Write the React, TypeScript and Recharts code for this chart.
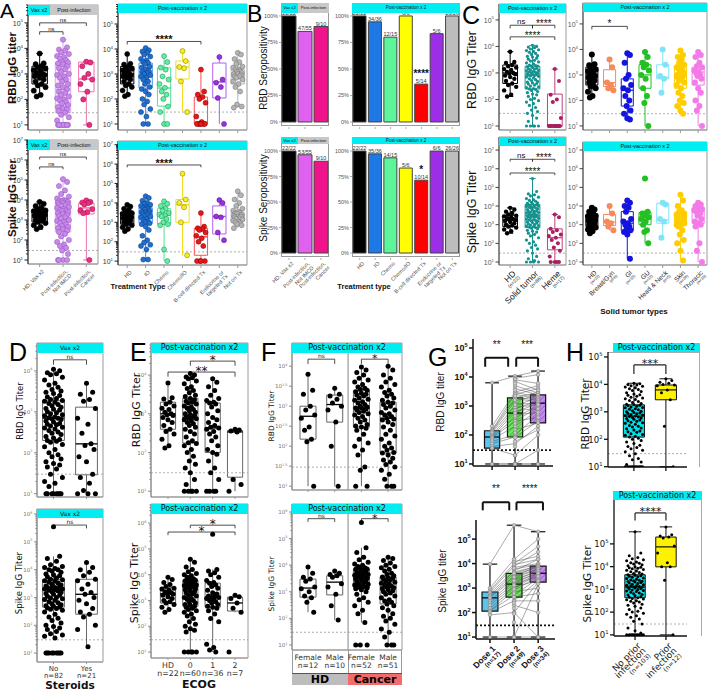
import React from 'react';
import {
  ComposedChart,
  Scatter,
  XAxis,
  YAxis,
  ReferenceArea,
  ReferenceLine,
  ReferenceDot,
  BarChart,
  Bar,
  Cell,
  LabelList,
} from 'recharts';

const SANS = '"Liberation Sans", Arial, sans-serif';
const DEJA = '"DejaVu Sans", Verdana, sans-serif';
const CYAN = '#00eef2';
const HGRAY = '#c8c8c8';

// ---- A: titers by cohort (RBD) ----
const hdRbd = [6300, 2600, 2400, 2000, 1800, 1600, 1400, 1300, 1100, 1000, 950, 900, 800, 700, 600, 500, 400, 350, 300, 220, 150, 130];
const hdRbdBox = [130, 400, 1000, 2000, 6300];
const piRbd = [22000, 11000, 9000, 8000, 7000, 6000, 5000, 4500, 4000, 3500, 3000, 2800, 2600, 2400, 2000, 1700, 1500, 1200, 1000, 900,
  800, 700, 600, 500, 400, 350, 300, 250, 200, 180, 150, 130, 110, 100, 90, 80, 70, 60, 50, 45, 40, 35, 30, 25, 20, 15, 10, 10, 10, 10, 10, 10, 10, 10, 10];
const piRbdBox = [10, 30, 250, 2700, 22000];
const caRbd = [3000, 2800, 2000, 1000, 700, 600, 400, 200, 100, 10];
const caRbdBox = [10, 200, 630, 2900, 3000];

// ---- A: RBD by treatment ----
const ioRbd = [11000, 9000, 8000, 7000, 6000, 5000, 4000, 3500, 3000, 2800, 2500, 2000, 1800, 1500, 1300, 1200, 1100, 1000, 900, 800,
  700, 600, 500, 400, 300, 250, 200, 150, 100, 80, 60, 40, 30, 20, 10, 10];
const ioRbdBox = [10, 275, 1200, 2750, 11000];
const chemoRbd = [5200, 3000, 1800, 1500, 800, 600, 400, 280, 200, 150, 100, 50, 30, 10, 10];
const chemoRbdBox = [10, 52, 275, 1750, 5200];
const cioRbd = [8300, 3300, 1900, 1700, 500, 30];
const cioRbdBox = [30, 630, 1900, 3300, 8300];
const bcRbd = [1500, 200, 150, 120, 100, 70, 20, 12, 10, 10, 10, 10, 10, 10];
const bcRbdBox = [10, 10, 12, 120, 1500];
const endoRbd = [4800, 600, 450, 300, 110, 10];
const endoRbdBox = [10, 110, 480, 2750, 4800];
const notxRbd = [7000, 6000, 4000, 3000, 2500, 2000, 1800, 1500, 1400, 1300, 1200, 1100, 1000, 1000, 900, 800, 800, 700, 600, 500, 400, 300, 200, 60, 50, 45];
const notxRbdBox = [45, 400, 800, 1500, 7000];

// ---- A: spike ----
const hdSpk = [8000, 6500, 5000, 4200, 3500, 3000, 2800, 2500, 2200, 2000, 1900, 1800, 1600, 1400, 1200, 1000, 900, 800, 700, 550, 450, 350];
const hdSpkBox = [350, 800, 1800, 3200, 8000];
const piSpk = [110000, 80000, 50000, 30000, 20000, 15000, 12000, 10000, 9500, 9000, 8500, 8000, 7500, 7000, 6500, 6000, 5500, 5000, 4500, 4000,
  3500, 3200, 3000, 2800, 2500, 2200, 2000, 1800, 1600, 1400, 1200, 1000, 900, 800, 700, 600, 500, 450, 400, 350, 300, 250, 200, 150, 100, 80, 60, 50, 40, 30, 20, 10, 10, 10, 10];
const piSpkBox = [10, 250, 2200, 9000, 110000];
const caSpk = [9500, 8000, 7500, 7000, 6000, 3500, 3000, 2500, 2200, 10];
const caSpkBox = [10, 2000, 4000, 7000, 9500];
const ioSpk = [22000, 18000, 13000, 10000, 9000, 8000, 7000, 6000, 5500, 5000, 4500, 4000, 3500, 3200, 3000, 2800, 2500, 2200, 2000, 1800,
  1500, 1300, 1100, 1000, 900, 800, 600, 400, 200, 120, 90, 70, 60, 40, 12, 12];
const ioSpkBox = [12, 900, 3000, 5600, 22000];
const chemoSpk = [12000, 9000, 7000, 5000, 4000, 3000, 2500, 2300, 2000, 1500, 1000, 800, 700, 40, 10];
const chemoSpkBox = [10, 800, 2300, 5000, 12000];
const cioSpk = [320000, 15000, 10000, 6000, 1000, 20];
const cioSpkBox = [20, 1000, 8000, 15000, 320000];
const bcSpk = [3000, 600, 500, 450, 400, 300, 200, 150, 100, 60, 10, 10, 10, 10];
const bcSpkBox = [10, 20, 180, 500, 3000];
const endoSpk = [14000, 10000, 2000, 1800, 300, 120];
const endoSpkBox = [120, 250, 2000, 7000, 14000];
const notxSpk = [40000, 25000, 15000, 10000, 7000, 5000, 4000, 3500, 3000, 3000, 2800, 2500, 2200, 2000, 2000, 1800, 1600, 1500, 1400, 1200, 1100, 1000, 900, 800, 700, 500];
const notxSpkBox = [500, 1200, 2000, 3000, 40000];

// ---- B: seropositivity counts ----
const bCohorts = ['HD, Vax x2', 'Post-infection,\nNot IMCD', 'Post-infection,\nCancer'];
const bTx = ['HD', 'IO', 'Chemo', 'Chemo/IO', 'B-cell directed Tx', 'Endocrine or\ntargeted Tx', 'Not on Tx'];
const bRbdPos1 = [22, 47, 9];
const bRbdN1 = [22, 55, 10];
const bRbdPos2 = [22, 34, 12, 6, 5, 5, 26];
const bRbdN2 = [22, 36, 15, 6, 14, 6, 26];
const bSpkPos1 = [22, 53, 9];
const bSpkN1 = [22, 55, 10];
const bSpkPos2 = [22, 35, 14, 5, 10, 6, 26];
const bSpkN2 = [22, 36, 15, 6, 14, 6, 26];
const bRbdStars = ['', '', '', '', '****', '', ''];
const bSpkStars = ['', '', '', '', '*', '', ''];
const bCol1 = ['#000000', '#e060f0', '#f0148c'];
const bCol2 = ['#000000', '#1e78e6', '#5cf59a', '#ffff00', '#ff0000', '#9b2ee6', '#bdbdbd'];

// ---- C: solid tumor vs heme ----
const solidRbd = [11000, 10000, 9500, 9000, 8000, 7500, 7000, 6500, 6000, 5500, 5000, 4500, 4200, 4000, 3600, 3300, 3000, 2800, 2600, 2400,
  2200, 2000, 1900, 1800, 1800, 1700, 1600, 1500, 1450, 1400, 1300, 1250, 1200, 1150, 1100, 1050, 1000, 980, 950, 900, 870, 830, 800, 780,
  750, 700, 650, 600, 560, 520, 480, 450, 420, 400, 380, 350, 320, 300, 280, 260, 250, 240, 220, 200, 180, 160, 150, 130, 110, 100, 90, 80,
  70, 60, 50, 40, 35, 30, 25, 20, 15, 10, 10, 10, 10, 10];
const solidRbdBox = [10, 250, 830, 1800, 11000];
const hemeRbd = [1400, 500, 150, 100, 80, 20, 10, 10, 10, 10, 10, 10, 10, 10, 10, 10, 10];
const hemeRbdBox = [10, 10, 10, 160, 1400];
const solidSpk = [300000, 60000, 45000, 40000, 35000, 30000, 25000, 22000, 20000, 18000, 16000, 15000, 14000, 13000, 12000, 12000, 11000,
  10000, 10000, 9500, 9000, 8500, 8000, 7500, 7000, 6500, 6000, 5500, 5200, 5000, 4800, 4500, 4200, 4000, 3800, 3500, 3300, 3100, 3000,
  2900, 2800, 2600, 2500, 2400, 2200, 2000, 1900, 1800, 1700, 1600, 1500, 1400, 1300, 1200, 1100, 1000, 950, 900, 850, 800, 750, 700, 650,
  600, 500, 450, 400, 350, 300, 250, 200, 150, 120, 100, 80, 60, 50, 40, 30, 20, 15, 12, 10, 10, 10, 10];
const solidSpkBox = [10, 700, 3000, 12000, 300000];
const hemeSpk = [3500, 2500, 600, 500, 400, 300, 250, 200, 150, 100, 60, 40, 20, 10, 10, 10, 10];
const hemeSpkBox = [10, 45, 200, 600, 3500];

// ---- C: solid tumor types ----
const bgRbd = [4000, 2000, 500, 400, 300, 250];
const bgRbdBox = [250, 350, 500, 1600, 4000];
const giRbd = [7000, 6000, 3000, 1000, 700, 400, 300, 250, 150, 100, 60, 40, 30, 20, 18];
const giRbdBox = [18, 60, 250, 700, 7000];
const guRbd = [8000, 5000, 3000, 2500, 2000, 1500, 1000, 700, 300, 150, 80, 10];
const guRbdBox = [10, 300, 1000, 2500, 8000];
const hnRbd = [10000, 2500, 900, 700, 200];
const hnRbdBox = [200, 700, 800, 2500, 10000];
const skRbd = [9000, 6000, 5000, 4000, 3000, 2500, 2000, 2000, 1800, 1500, 1500, 1200, 1000, 1000, 900, 800, 700, 600, 500, 400, 300, 200, 150, 100, 80, 60, 40, 30];
const skRbdBox = [30, 300, 1000, 2000, 9000];
const thRbd = [8000, 6000, 5000, 3000, 2200, 2000, 1500, 1300, 1200, 1000, 900, 700, 500, 300, 200, 100, 60, 40, 10];
const thRbdBox = [10, 400, 1300, 2000, 8000];
const bgSpk = [10000, 4000, 1500, 1200, 800, 500];
const bgSpkBox = [500, 900, 1400, 3500, 10000];
const giSpk = [20000, 15000, 10000, 8000, 5000, 2000, 1500, 1200, 1000, 800, 600, 500, 400, 300, 15];
const giSpkBox = [15, 500, 1200, 5000, 20000];
const guSpk = [300000, 5000, 4000, 3000, 3000, 2500, 2000, 1500, 1000, 500, 400, 100];
const guSpkBox = [100, 1000, 2500, 4500, 6000];
const hnSpk = [15000, 12000, 2000, 1500, 200];
const hnSpkBox = [200, 1200, 1800, 14000, 15000];
const skSpk = [40000, 20000, 10000, 6000, 5000, 4000, 3500, 3000, 3000, 2800, 2500, 2500, 2200, 2000, 2000, 1800, 1500, 1400, 1200, 1000, 1000, 800, 500, 300, 150, 100, 40, 12];
const skSpkBox = [12, 1200, 2500, 3500, 40000];
const thSpk = [15000, 12000, 10000, 9000, 8000, 7000, 6000, 5000, 5000, 4000, 3000, 2000, 1500, 1200, 1000, 800, 100, 40, 10];
const thSpkBox = [10, 1200, 5000, 8000, 15000];

// ---- D: steroids ----
const dNoRbd = [11000, 10000, 9000, 8500, 8000, 7000, 6000, 5000, 4500, 4000, 3500, 3200, 3000, 2800, 2500, 2300, 2100, 2000, 1900, 1800,
  1700, 1600, 1500, 1400, 1300, 1200, 1150, 1100, 1000, 950, 900, 850, 800, 750, 720, 700, 680, 650, 600, 560, 520, 500, 480, 450, 420, 400,
  380, 350, 320, 300, 280, 250, 230, 210, 200, 190, 180, 160, 140, 120, 100, 90, 80, 70, 60, 55, 50, 45, 40, 30, 25, 20, 18, 15, 10, 10, 10, 10, 10, 10, 10, 10];
const dNoRbdBox = [10, 200, 700, 1860, 11000];
const dYesRbd = [5000, 3000, 2700, 2000, 1800, 1200, 700, 500, 300, 165, 150, 120, 80, 60, 30, 25, 18, 12, 10, 10, 10];
const dYesRbdBox = [10, 29, 165, 1300, 5000];
const dNoSpk = [350000, 30000, 25000, 20000, 15000, 13000, 12000, 11000, 10000, 10000, 9000, 8000, 7000, 6500, 6000, 5500, 5000, 4500, 4300,
  4000, 3800, 3500, 3300, 3000, 2800, 2600, 2500, 2400, 2300, 2200, 2100, 2000, 2000, 1900, 1800, 1700, 1600, 1500, 1400, 1300, 1200, 1100,
  1000, 950, 900, 850, 800, 700, 650, 600, 550, 500, 480, 450, 420, 400, 380, 350, 300, 250, 200, 180, 150, 120, 100, 90, 80, 70, 60, 50, 45,
  40, 35, 10, 10, 10, 10, 10, 10, 10, 10, 10];
const dNoSpkBox = [35, 450, 2000, 4300, 30000];
const dYesSpk = [18000, 12000, 10000, 8000, 6000, 4500, 4000, 3000, 2000, 1500, 1300, 1000, 800, 600, 400, 300, 250, 200, 100, 70, 17];
const dYesSpkBox = [17, 250, 1300, 4500, 18000];

// ---- E: ECOG ----
const e0Rbd = [11000, 10000, 9000, 8500, 8000, 7000, 6000, 5000, 4500, 4000, 3500, 3000, 2800, 2500, 2300, 2100, 2000, 1900, 1800, 1600,
  1500, 1400, 1300, 1200, 1100, 1000, 950, 900, 850, 800, 780, 750, 700, 650, 600, 550, 500, 450, 400, 350, 300, 250, 200, 180, 170, 150,
  120, 100, 80, 60, 50, 40, 30, 20, 15, 10, 10, 10, 10, 10];
const e0RbdBox = [10, 175, 800, 2500, 11000];
const e1Rbd = [8000, 6500, 5000, 4000, 3000, 2500, 2200, 2000, 1900, 1800, 1500, 1200, 1000, 800, 700, 600, 500, 450, 430, 400, 350, 300,
  250, 200, 150, 120, 100, 90, 60, 40, 30, 20, 10, 10, 10, 10];
const e1RbdBox = [10, 100, 430, 1900, 8000];
const e2Rbd = [400, 380, 360, 340, 20, 15, 10];
const e2RbdBox = [10, 23, 340, 370, 400];
const e0Spk = [40000, 30000, 20000, 16000, 13000, 11000, 10000, 9000, 8000, 7000, 6500, 6100, 5800, 5500, 5000, 4800, 4500, 4200, 4000,
  3800, 3500, 3300, 3300, 3000, 2800, 2600, 2400, 2200, 2000, 1800, 1600, 1500, 1300, 1200, 1100, 1000, 900, 800, 700, 650, 600, 550, 500,
  450, 400, 350, 300, 250, 200, 150, 120, 100, 80, 70, 60, 10, 10, 10, 10, 10];
const e0SpkBox = [10, 600, 3300, 6100, 40000];
const e1Spk = [370000, 16000, 14000, 12000, 10000, 8000, 6000, 5000, 4700, 4000, 3500, 3000, 2500, 2000, 1800, 1500, 1400, 1350, 1300,
  1200, 1100, 1000, 900, 800, 700, 600, 550, 500, 400, 300, 200, 150, 20, 15, 12, 10];
const e1SpkBox = [10, 550, 1350, 4700, 16000];
const e2Spk = [1600, 1400, 1200, 800, 500, 350, 10];
const e2SpkBox = [350, 390, 800, 1350, 1600];

// ---- F: sex ----
const fHdFRbd = [6300, 2500, 2000, 1000, 800, 600, 500, 300, 250, 150, 130, 10];
const fHdFRbdBox = [10, 150, 560, 1000, 6300];
const fHdMRbd = [2800, 2000, 1800, 1500, 1200, 1000, 800, 400, 100, 10];
const fHdMRbdBox = [10, 400, 1100, 1900, 2800];
const fCaFRbd = [9500, 8000, 7000, 6000, 5000, 4500, 4000, 3500, 3000, 2800, 2600, 2500, 2300, 2100, 2000, 1900, 1800, 1600, 1500, 1400,
  1300, 1200, 1100, 1000, 950, 900, 900, 850, 800, 750, 700, 650, 600, 550, 500, 450, 400, 350, 320, 300, 280, 250, 200, 150, 120, 100, 80, 60, 30, 25, 10, 10];
const fCaFRbdBox = [10, 300, 900, 2500, 9500];
const fCaMRbd = [10000, 8000, 6000, 5000, 4000, 3500, 3000, 2500, 2200, 2000, 1800, 1600, 1400, 1260, 1200, 1100, 1000, 900, 800, 700, 650,
  600, 550, 500, 480, 450, 400, 350, 300, 250, 200, 180, 150, 120, 100, 90, 80, 70, 68, 60, 50, 45, 40, 35, 30, 25, 20, 15, 10, 10, 10];
const fCaMRbdBox = [10, 68, 500, 1260, 10000];
const fHdFSpk = [8500, 5000, 3500, 3000, 2500, 1500, 1300, 1000, 700, 600, 400, 170];
const fHdFSpkBox = [170, 630, 1380, 3000, 8500];
const fHdMSpk = [6000, 5000, 4500, 4000, 3500, 2000, 1500, 800, 300, 87];
const fHdMSpkBox = [87, 760, 2300, 4000, 6000];
const fCaFSpk = [400000, 45000, 30000, 20000, 16000, 13000, 11000, 10000, 9000, 8000, 7500, 7200, 7000, 6500, 6000, 5500, 5000, 4800,
  4500, 4200, 4000, 3800, 3500, 3300, 3200, 3000, 2800, 2600, 2400, 2200, 2000, 1900, 1800, 1700, 1600, 1500, 1400, 1380, 1300, 1200, 1000,
  800, 600, 500, 400, 300, 200, 150, 70, 10, 10, 10];
const fCaFSpkBox = [70, 1380, 3300, 7200, 45000];
const fCaMSpk = [20000, 18000, 15000, 12000, 10000, 9000, 8000, 7000, 6000, 5000, 4500, 4000, 3600, 3400, 3200, 3000, 2800, 2500, 2300,
  2100, 2000, 1800, 1600, 1500, 1400, 1300, 1200, 1100, 1000, 900, 800, 700, 600, 500, 450, 400, 350, 300, 250, 200, 150, 120, 100, 80, 60, 40, 30, 20, 10, 10, 10];
const fCaMSpkBox = [10, 350, 1500, 3600, 20000];

// ---- G: per subject [dose1, dose2, dose3], 0 = not sampled ----
const gRbdSubj = [
  [6300, 10700, 16000], [200, 3000, 5000], [150, 2500, 4000], [140, 1900, 3000], [130, 1500, 2400], [120, 1000, 2000], [100, 800, 1500],
  [90, 600, 1250], [85, 400, 1000], [80, 300, 900], [70, 200, 700], [60, 100, 500], [50, 85, 300], [40, 50, 200], [35, 20, 100], [10, 10, 30],
  [10, 10, 10], [0, 9000, 12000], [0, 8000, 6000], [0, 7000, 3500], [0, 5000, 2800], [0, 4000, 2400], [0, 3000, 2000], [0, 2500, 1800],
  [0, 2000, 1600], [0, 1800, 1400], [0, 1200, 1200], [0, 900, 1100], [0, 700, 800], [0, 500, 600], [0, 300, 400], [0, 150, 260], [0, 60, 150],
  [0, 10, 10], [0, 8500, 0], [0, 6000, 0], [0, 3500, 0], [0, 2200, 0], [0, 1600, 0], [0, 1100, 0], [0, 570, 0], [0, 450, 0], [0, 250, 0],
  [0, 120, 0], [0, 80, 0], [0, 40, 0], [0, 20, 0], [0, 10, 0], [0, 10, 0],
];
const gRbdBox = [[10, 35, 85, 140, 6300], [10, 85, 570, 1900, 10700], [10, 260, 1250, 2400, 16000]];
const gSpkSubj = [
  [9500, 370000, 200000], [1000, 15000, 100000], [800, 10000, 50000], [690, 8000, 30000], [600, 5000, 15000], [500, 4000, 8000],
  [450, 3000, 7900], [400, 2500, 6000], [300, 2000, 5000], [250, 1500, 4500], [200, 1200, 4000], [150, 1000, 3500], [120, 800, 3000],
  [115, 500, 2500], [100, 300, 2000], [80, 100, 1740], [10, 10, 1500], [0, 12000, 20000], [0, 9000, 15000], [0, 7000, 10000], [0, 6000, 9000],
  [0, 4500, 8000], [0, 3500, 7000], [0, 3000, 6000], [0, 2200, 5000], [0, 1800, 4000], [0, 1450, 3000], [0, 1100, 2000], [0, 700, 1000],
  [0, 430, 600], [0, 300, 300], [0, 200, 100], [0, 100, 10], [0, 10, 10], [0, 15000, 0], [0, 6500, 0], [0, 4000, 0], [0, 2800, 0],
  [0, 2000, 0], [0, 1300, 0], [0, 900, 0], [0, 600, 0], [0, 430, 0], [0, 250, 0], [0, 150, 0], [0, 90, 0], [0, 40, 0], [0, 10, 0], [0, 10, 0],
];
const gSpkBox = [[10, 115, 400, 690, 9500], [10, 430, 1450, 4000, 370000], [10, 1740, 4000, 7900, 200000]];

// ---- H: prior infection ----
const hNoRbd = [11000, 10500, 10000, 9500, 9000, 8500, 8000, 7500, 7000, 6500, 6000, 5500, 5000, 4500, 4200, 4000, 3700, 3400, 3200, 3000,
  2800, 2600, 2400, 2200, 2000, 1900, 1800, 1750, 1700, 1600, 1500, 1450, 1400, 1300, 1250, 1200, 1100, 1050, 1000, 950, 900, 870, 850, 800,
  760, 730, 700, 680, 650, 620, 600, 570, 540, 500, 470, 450, 420, 400, 380, 350, 320, 300, 280, 260, 240, 220, 200, 190, 180, 160, 150, 140,
  130, 120, 110, 100, 90, 80, 70, 60, 55, 50, 45, 40, 35, 30, 25, 20, 18, 15, 12, 10, 10, 10, 10, 10, 10, 10, 10, 10, 10, 10, 10];
const hNoRbdBox = [10, 120, 700, 1800, 11000];
const hPrRbd = [16000, 14000, 12000, 11000, 10000, 9500, 9000, 6300, 5000, 2750, 300, 10];
const hPrRbdBox = [10, 2750, 6300, 9500, 16000];
const hNoSpk = [340000, 40000, 30000, 25000, 22000, 20000, 18000, 16000, 15000, 14000, 13000, 12000, 11000, 10000, 9500, 9000, 8500, 8000,
  7500, 7000, 6500, 6000, 5500, 5000, 4700, 4400, 4200, 4000, 3800, 3600, 3400, 3200, 3000, 2800, 2600, 2500, 2400, 2300, 2200, 2100, 2000,
  1900, 1800, 1700, 1600, 1500, 1450, 1400, 1350, 1300, 1260, 1200, 1150, 1100, 1050, 1000, 950, 900, 850, 800, 750, 700, 650, 600, 560, 520,
  480, 450, 430, 400, 380, 350, 320, 300, 280, 250, 220, 200, 180, 150, 130, 110, 100, 90, 80, 70, 60, 50, 40, 30, 20, 15, 12, 10, 10, 10, 10, 10, 10, 10, 10, 10, 10];
const hNoSpkBox = [10, 430, 1260, 4400, 340000];
const hPrSpk = [560000, 250000, 220000, 200000, 180000, 80000, 40000, 15000, 10000, 9800, 2500, 10];
const hPrSpkBox = [10, 9800, 74000, 200000, 560000];

// deterministic horizontal spread pattern for the dots
const JIT = [0, 0.62, -0.62, 0.3, -0.3, 0.9, -0.9, 0.15, -0.46, 0.46, -0.15, 0.76, -0.76];

type Grp = { v: number[]; b: number[]; c: string; e?: string; be?: string; bf?: string; r?: number };
type Brk = { a: number; b: number; y: number; t: string; fs?: number; leg?: number; lw?: number; off?: number; bold?: boolean };
type Cfg = {
  L: number; T: number; W: number; H: number; lo: number; hi: number; xd: [number, number];
  major: number[]; minor?: boolean; g: Grp[]; bw: number; jw: number; cap?: number; mw?: number; blw?: number;
  cut?: number; cutC?: string; cutD?: string; cutW?: number; br?: Brk[]; brc?: string;
  xlab?: string[]; xrot?: boolean; xfs?: number; xfs2?: number; xbold?: boolean; xcol?: string; xtl?: number; xy0?: number; xlh?: number;
  fs: number; font: string; tc: string; ac: string; aw?: number; tl?: number; tb?: boolean;
  frame?: string; xac?: string; divider?: number; subj?: number[][];
};

const MT = 40, MR = 12, YW = 40, XH = 60;

const g = (v: number[], b: number[], c: string, e?: string, be?: string, bf?: string, r?: number): Grp => ({ v, b, c, e, be, bf, r });

function YTick(p: any) {
  const { x, y, payload, c } = p;
  const e = Math.log10(payload.value);
  const maj = c.major.some((m: number) => Math.abs(m - e) < 1e-6);
  const tl = c.tl ?? 4;
  const ex = Math.round(e * 10) / 10;
  return (
    <g>
      <line x1={x} x2={x - (maj ? tl : tl * 0.55)} y1={y} y2={y} stroke={c.ac} strokeWidth={c.aw ?? 1} />
      {maj && (
        <text x={x - tl - 1.5} y={y + c.fs * 0.38} textAnchor="end" fontSize={c.fs} fill={c.tc} fontFamily={c.font} fontWeight={c.tb ? 700 : 400}>
          10<tspan dy={-c.fs * 0.45} fontSize={c.fs * 0.62}>{String(ex)}</tspan>
        </text>
      )}
    </g>
  );
}

function XTick(p: any) {
  const { x, y, payload, c } = p;
  const lab: string | undefined = c.xlab?.[Math.round(payload.value) - 1];
  const tl = c.xtl ?? 3;
  const fs = c.xfs ?? 7;
  const fs2 = c.xfs2 ?? fs;
  const lines = lab ? lab.split('\n') : [];
  return (
    <g>
      {tl > 0 && <line x1={x} x2={x} y1={y} y2={y + tl} stroke={c.xac ?? c.ac} strokeWidth={c.aw ?? 1} />}
      {lab && c.xrot && (
        <text transform={`translate(${x + 2},${y + tl + 2}) rotate(-45)`} textAnchor="end" fontFamily={c.font} fill={c.xcol ?? '#444'} fontWeight={c.xbold ? 700 : 400}>
          {lines.map((l, k) => (
            <tspan key={k} x={0} dy={k === 0 ? fs * 0.7 : fs2 * 1.05} fontSize={k > 0 && l.startsWith('(') ? fs2 : fs}>{l}</tspan>
          ))}
        </text>
      )}
      {lab && !c.xrot && (
        <text x={x} y={y + (c.xy0 ?? 10)} textAnchor="middle" fontFamily={c.font} fill={c.xcol ?? '#333'} fontWeight={c.xbold ? 700 : 400} fontSize={fs}>
          {lines.map((l, k) => (
            <tspan key={k} x={x} dy={k === 0 ? 0 : c.xlh ?? 8}>{l}</tspan>
          ))}
        </text>
      )}
    </g>
  );
}

function LogPanel({ c }: { c: Cfg }) {
  const loV = 10 ** c.lo;
  const hiV = 10 ** c.hi;
  const minors = c.minor
    ? c.major.filter((e) => Number.isInteger(e)).flatMap((e) => [2, 3, 4, 5, 6, 7, 8, 9].map((m) => m * 10 ** e))
    : [];
  const ticks = [...c.major.map((e) => 10 ** e), ...minors].filter((v) => v >= loV && v <= hiV).sort((a, b) => a - b);
  const els: React.ReactNode[] = [];
  if (c.frame) {
    els.push(<ReferenceArea key="fr" x1={c.xd[0]} x2={c.xd[1]} y1={loV} y2={hiV} fill="none" stroke={c.frame} strokeWidth={1} ifOverflow="visible" />);
  }
  if (c.divider) {
    els.push(<ReferenceLine key="dv" x={c.divider} stroke={c.frame ?? '#888'} strokeWidth={1.2} ifOverflow="visible" />);
  }
  if (c.cut) {
    els.push(<ReferenceLine key="cut" y={c.cut} stroke={c.cutC ?? '#9a9a9a'} strokeDasharray={c.cutD ?? '2 2'} strokeWidth={c.cutW ?? 0.8} ifOverflow="visible" />);
  }
  (c.subj ?? []).forEach((s, k) => {
    const pts = s.map((v, j) => ({ x: j + 1, y: v })).filter((q) => q.y > 0);
    els.push(<Scatter key={`s${k}`} data={pts} line={{ stroke: '#555', strokeWidth: 0.5 }} shape={() => <g />} isAnimationActive={false} />);
  });
  const lw = c.blw ?? 1;
  c.g.forEach((gr, i) => {
    const gx = i + 1;
    const [mn, q1, md, q3, mx] = gr.b;
    const be = gr.be ?? gr.c;
    els.push(<ReferenceLine key={`wl${i}`} segment={[{ x: gx, y: mn }, { x: gx, y: q1 }]} stroke={be} strokeWidth={lw} ifOverflow="visible" />);
    els.push(<ReferenceLine key={`wh${i}`} segment={[{ x: gx, y: q3 }, { x: gx, y: mx }]} stroke={be} strokeWidth={lw} ifOverflow="visible" />);
    if (c.cap) {
      els.push(<ReferenceLine key={`cl${i}`} segment={[{ x: gx - c.cap, y: mn }, { x: gx + c.cap, y: mn }]} stroke={be} strokeWidth={lw} ifOverflow="visible" />);
      els.push(<ReferenceLine key={`ch${i}`} segment={[{ x: gx - c.cap, y: mx }, { x: gx + c.cap, y: mx }]} stroke={be} strokeWidth={lw} ifOverflow="visible" />);
    }
    els.push(<ReferenceArea key={`bx${i}`} x1={gx - c.bw} x2={gx + c.bw} y1={q1} y2={q3} fill={gr.bf ?? 'none'} fillOpacity={1} stroke={be} strokeWidth={lw} ifOverflow="visible" />);
    els.push(<ReferenceLine key={`md${i}`} segment={[{ x: gx - c.bw, y: md }, { x: gx + c.bw, y: md }]} stroke={c.mw ? (gr.be === '#666' ? '#000' : be) : be} strokeWidth={c.mw ?? lw} ifOverflow="visible" />);
  });
  c.g.forEach((gr, i) => {
    const pts = gr.v.map((v, k) => ({ x: i + 1 + JIT[k % JIT.length] * c.jw, y: v }));
    const r = gr.r ?? 2.4;
    els.push(
      <Scatter
        key={`p${i}`}
        data={pts}
        isAnimationActive={false}
        shape={(sp: any) => <circle cx={sp.cx} cy={sp.cy} r={r} fill={gr.c} stroke={gr.e ?? 'none'} strokeWidth={0.5} />}
      />,
    );
  });
  (c.br ?? []).forEach((b, k) => {
    const yl = b.y / 10 ** (b.leg ?? 0.12);
    const st = { stroke: c.brc ?? '#222', strokeWidth: b.lw ?? 0.8 };
    els.push(<ReferenceLine key={`b${k}`} segment={[{ x: b.a, y: b.y }, { x: b.b, y: b.y }]} {...st} ifOverflow="visible" />);
    els.push(<ReferenceLine key={`bl${k}`} segment={[{ x: b.a, y: b.y }, { x: b.a, y: yl }]} {...st} ifOverflow="visible" />);
    els.push(<ReferenceLine key={`br${k}`} segment={[{ x: b.b, y: b.y }, { x: b.b, y: yl }]} {...st} ifOverflow="visible" />);
    els.push(
      <ReferenceDot
        key={`bt${k}`}
        x={(b.a + b.b) / 2}
        y={b.y}
        r={0}
        fill="none"
        stroke="none"
        ifOverflow="visible"
        label={{ value: b.t, position: 'top', offset: b.off ?? 1, fontSize: b.fs ?? 7, fill: '#111', fontFamily: c.font, fontWeight: b.bold ? 700 : 400 }}
      />,
    );
  });
  return (
    <div style={{ position: 'absolute', left: c.L - YW, top: c.T - MT }}>
      <ComposedChart width={YW + c.W + MR} height={MT + c.H + XH} margin={{ top: MT, right: MR, bottom: 0, left: 0 }}>
        <XAxis
          type="number"
          dataKey="x"
          domain={c.xd}
          allowDataOverflow
          ticks={c.g.map((_, i) => i + 1)}
          interval={0}
          tickSize={0}
          tickMargin={0}
          tickLine={false}
          axisLine={{ stroke: c.xac ?? c.ac, strokeWidth: c.aw ?? 1 }}
          tick={(p: any) => <XTick {...p} c={c} />}
          height={XH}
        />
        <YAxis
          type="number"
          dataKey="y"
          scale="log"
          domain={[loV, hiV]}
          allowDataOverflow
          ticks={ticks}
          interval={0}
          tickSize={0}
          tickMargin={0}
          tickLine={false}
          axisLine={{ stroke: c.ac, strokeWidth: c.aw ?? 1 }}
          tick={(p: any) => <YTick {...p} c={c} />}
          width={YW}
        />
        {els}
      </ComposedChart>
    </div>
  );
}

// ---- bar panels (B) ----
type BarCfg = { L: number; T: number; W: number; H: number; lo: number; hi: number; pos: number[]; n: number[]; cols: string[]; names: string[]; stars?: string[]; xlab?: boolean };

function PctTick(p: any) {
  const { x, y, payload } = p;
  return (
    <g>
      <line x1={x} x2={x - 2} y1={y} y2={y} stroke="#777" strokeWidth={0.6} />
      <text x={x - 3} y={y + 2} textAnchor="end" fontSize={5.5} fill="#555" fontFamily={SANS}>{Math.round(payload.value * 100)}%</text>
    </g>
  );
}

function BarXTick(p: any) {
  const { x, y, payload, c } = p;
  const lines = String(payload.value).split('\n');
  return (
    <g>
      <line x1={x} x2={x} y1={y + 1} y2={y + 3} stroke="#777" strokeWidth={0.6} />
      {c.xlab && (
        <text transform={`translate(${x + 2},${y + 4}) rotate(-45)`} textAnchor="end" fontFamily={SANS} fill="#555" fontSize={5.5}>
          {lines.map((l: string, k: number) => (
            <tspan key={k} x={0} dy={k === 0 ? 4 : 6}>{l}</tspan>
          ))}
        </text>
      )}
    </g>
  );
}

function BarPanel({ c }: { c: BarCfg }) {
  const data = c.names.map((nm, i) => ({ nm, v: c.pos[i] / c.n[i], f: `${c.pos[i]}/${c.n[i]}`, s: c.stars?.[i] ?? '' }));
  return (
    <div style={{ position: 'absolute', left: c.L - YW, top: c.T - MT }}>
      <BarChart width={YW + c.W + MR} height={MT + c.H + XH} data={data} margin={{ top: MT, right: MR, bottom: 0, left: 0 }} barCategoryGap={1}>
        <XAxis dataKey="nm" interval={0} tickSize={0} tickMargin={0} tickLine={false} axisLine={false} height={XH} tick={(p: any) => <BarXTick {...p} c={c} />} />
        <YAxis type="number" domain={[c.lo, c.hi]} allowDataOverflow ticks={[0, 0.25, 0.5, 0.75, 1]} interval={0} tickSize={0} tickMargin={0} tickLine={false} axisLine={false} width={YW} tick={(p: any) => <PctTick {...p} />} />
        <Bar dataKey="v" isAnimationActive={false} stroke="#444" strokeWidth={1}>
          {data.map((_, i) => (
            <Cell key={i} fill={c.cols[i]} />
          ))}
          <LabelList dataKey="f" position="top" offset={1} fontSize={5.5} fill="#333" fontFamily={SANS} />
          <LabelList dataKey="s" position="top" offset={7} fontSize={10} fill="#111" fontWeight={700} fontFamily={SANS} />
        </Bar>
      </BarChart>
    </div>
  );
}

// ---- panel configs ----
const stA = { fs: 7, font: SANS, tc: '#333', ac: '#222', tl: 3.5, frame: '#9a9a9a', xac: '#9a9a9a', minor: true };
const stC = { fs: 7, font: SANS, tc: '#555', ac: '#444', tl: 3.5, frame: '#9a9a9a', xac: '#9a9a9a' };
const stD = { fs: 5.5, font: DEJA, tc: '#777', ac: '#888', tl: 3, frame: '#9a9a9a', xac: '#9a9a9a', minor: true, xtl: 2, mw: 1.3 };
const blk = (v: number[], b: number[]) => g(v, b, '#000', undefined, '#666', 'none', 2.5);
const txCols = [
  ['#1e6fd0', '#0a3a80', '#3c8ef0'],
  ['#5ef0a0', '#1a8050', '#50e090'],
  ['#f8ec1a', '#807000', '#f0e020'],
  ['#e81818', '#800000', '#ff5050'],
  ['#9a30e0', '#501080', '#b060f0'],
  ['#b4b4b4', '#707070', '#b8b8b8'],
];
const txG = (sets: number[][]) => txCols.map((cc, i) => g(sets[i * 2], sets[i * 2 + 1], cc[0], cc[1], cc[2], 'none', 2.5));
const txLabels = ['HD', 'IO', 'Chemo', 'Chemo/IO', 'B-cell directed Tx', 'Endocrine or\ntargeted Tx', 'Not on Tx'];
const c2Cols = ['#000000', '#f58a5a', '#1414e0', '#22c022', '#80e4f8', '#ffcc00', '#f47ae8'];
const c2G = (sets: number[][]) => c2Cols.map((col, i) => g(sets[i * 2], sets[i * 2 + 1], col, undefined, col, 'none', 3));

const panels: Cfg[] = [
  // A
  { ...stA, L: 28, T: 5, W: 70, H: 125, lo: 0.8, hi: 5.7, xd: [0.5, 3.5], major: [1, 2, 3, 4, 5], bw: 0.33, jw: 0.28, cap: 0.14, mw: 1.5, cut: 30,
    g: [g(hdRbd, hdRbdBox, '#000', '#000', '#000', 'none', 2.6), g(piRbd, piRbdBox, '#c88ae8', '#9050c0', '#d8a8f0', '#f3e6fb', 2.6), g(caRbd, caRbdBox, '#e83080', '#a01050', '#f070a8', 'none', 2.6)],
    br: [{ a: 1, b: 2, y: 45000, t: 'ns', fs: 6 }, { a: 1, b: 3, y: 100000, t: 'ns', fs: 6 }] },
  { ...stA, L: 118, T: 4, W: 129, H: 126, lo: 0.76, hi: 5.8, xd: [0.5, 7.5], major: [1, 2, 3, 4, 5], bw: 0.36, jw: 0.28, mw: 1.5, cut: 30,
    g: [g(hdRbd, hdRbdBox, '#000', '#000', '#000', 'none', 2.5), ...txG([ioRbd, ioRbdBox, chemoRbd, chemoRbdBox, cioRbd, cioRbdBox, bcRbd, bcRbdBox, endoRbd, endoRbdBox, notxRbd, notxRbdBox])],
    br: [{ a: 1, b: 5, y: 20000, t: '****', fs: 11, bold: true, off: -2 }] },
  { ...stA, L: 28, T: 140, W: 70, H: 124, lo: 0.8, hi: 7.0, xd: [0.5, 3.5], major: [1, 2, 3, 4, 5, 6, 7], bw: 0.33, jw: 0.28, cap: 0.14, mw: 1.5, cut: 30,
    g: [g(hdSpk, hdSpkBox, '#000', '#000', '#000', 'none', 2.6), g(piSpk, piSpkBox, '#c88ae8', '#9050c0', '#d8a8f0', '#f3e6fb', 2.6), g(caSpk, caSpkBox, '#e83080', '#a01050', '#f070a8', 'none', 2.6)],
    br: [{ a: 1, b: 2, y: 450000, t: 'ns', fs: 6 }, { a: 1, b: 3, y: 1400000, t: 'ns', fs: 6 }],
    xlab: bCohorts, xrot: true, xfs: 5.5, xcol: '#555' },
  { ...stA, L: 118, T: 141, W: 129, H: 124, lo: 0.8, hi: 7.19, xd: [0.5, 7.5], major: [1, 2, 3, 4, 5, 6, 7], bw: 0.36, jw: 0.28, mw: 1.5, cut: 30,
    g: [g(hdSpk, hdSpkBox, '#000', '#000', '#000', 'none', 2.5), ...txG([ioSpk, ioSpkBox, chemoSpk, chemoSpkBox, cioSpk, cioSpkBox, bcSpk, bcSpkBox, endoSpk, endoSpkBox, notxSpk, notxSpkBox])],
    br: [{ a: 1, b: 5, y: 900000, t: '****', fs: 11, bold: true, off: -2 }],
    xlab: txLabels, xrot: true, xfs: 5.5, xcol: '#555' },
  // C
  { ...stC, L: 499, T: 4, W: 67, H: 126, lo: 0.85, hi: 5.6, xd: [0.5, 3.5], major: [1, 2, 3, 4, 5], bw: 0.33, jw: 0.3, cap: 0.14, mw: 1.2, cut: 30,
    g: [g(hdRbd, hdRbdBox, '#000', undefined, '#000', 'none', 2.2), g(solidRbd, solidRbdBox, '#13928f', undefined, '#13928f', 'none', 1.6), g(hemeRbd, hemeRbdBox, '#a82060', undefined, '#c04080', 'none', 2)],
    br: [{ a: 1, b: 2, y: 63000, t: 'ns', fs: 8 }, { a: 2, b: 3, y: 63000, t: '****', fs: 10, off: -2 }, { a: 1, b: 3, y: 23000, t: '****', fs: 10, off: -2 }] },
  { ...stC, L: 583, T: 3, W: 124, H: 127, lo: 0.84, hi: 5.82, xd: [0.5, 7.5], major: [1, 2, 3, 4, 5], bw: 0.34, jw: 0.24, mw: 1.2, cut: 30,
    g: c2G([hdRbd, hdRbdBox, bgRbd, bgRbdBox, giRbd, giRbdBox, guRbd, guRbdBox, hnRbd, hnRbdBox, skRbd, skRbdBox, thRbd, thRbdBox]),
    br: [{ a: 1, b: 3, y: 80000, t: '*', fs: 10, off: -1 }] },
  { ...stC, L: 499, T: 137, W: 67, H: 128, lo: 0.84, hi: 7.7, xd: [0.5, 3.5], major: [1, 2, 3, 4, 5, 6, 7], bw: 0.33, jw: 0.3, cap: 0.14, mw: 1.2, cut: 30,
    g: [g(hdSpk, hdSpkBox, '#000', undefined, '#000', 'none', 2.2), g(solidSpk, solidSpkBox, '#13928f', undefined, '#13928f', 'none', 1.6), g(hemeSpk, hemeSpkBox, '#a82060', undefined, '#c04080', 'none', 2)],
    br: [{ a: 1, b: 2, y: 3200000, t: 'ns', fs: 8 }, { a: 2, b: 3, y: 3200000, t: '****', fs: 10, off: -2 }, { a: 1, b: 3, y: 590000, t: '****', fs: 10, off: -2 }],
    xlab: ['HD\n(n=22)', 'Solid tumor\n(n=86)', 'Heme\n(n=17)'], xrot: true, xfs: 8.5, xfs2: 5, xcol: '#222' },
  { ...stC, L: 583, T: 142, W: 124, H: 123, lo: 0.84, hi: 7.43, xd: [0.5, 7.5], major: [1, 2, 3, 4, 5, 6, 7], bw: 0.34, jw: 0.24, mw: 1.2, cut: 30,
    g: c2G([hdSpk, hdSpkBox, bgSpk, bgSpkBox, giSpk, giSpkBox, guSpk, guSpkBox, hnSpk, hnSpkBox, skSpk, skSpkBox, thSpk, thSpkBox]),
    xlab: ['HD\n(n=22)', 'Breast/Gyn\n(n=6)', 'GI\n(n=15)', 'GU\n(n=12)', 'Head & Neck\n(n=5)', 'Skin\n(n=28)', 'Thoracic\n(n=19)'], xrot: true, xfs: 6.5, xfs2: 4, xcol: '#222' },
  // D
  { ...stD, L: 37, T: 343, W: 66, H: 154, lo: 0.92, hi: 4.68, xd: [0.5, 2.5], major: [1, 2, 3, 4], bw: 0.33, jw: 0.3, cut: 30,
    g: [blk(dNoRbd, dNoRbdBox), blk(dYesRbd, dYesRbdBox)], br: [{ a: 1, b: 2, y: 18600, t: 'ns', fs: 6 }] },
  { ...stD, L: 37, T: 509, W: 66, H: 153, lo: 0.68, hi: 6.18, xd: [0.5, 2.5], major: [1, 2, 3, 4, 5, 6], bw: 0.33, jw: 0.3, cut: 30,
    g: [blk(dNoSpk, dNoSpkBox), blk(dYesSpk, dYesSpkBox)], br: [{ a: 1, b: 2, y: 400000, t: 'ns', fs: 6 }],
    xlab: ['No\nn=82', 'Yes\nn=21'], xfs: 7, xcol: '#333', xy0: 8.5, xlh: 7.5 },
  // E
  { ...stD, L: 151, T: 343, W: 97, H: 154, lo: 0.85, hi: 4.83, xd: [0.24, 4.58], major: [1, 2, 3, 4], bw: 0.34, jw: 0.3, cut: 30,
    g: [blk(hdRbd, hdRbdBox), blk(e0Rbd, e0RbdBox), blk(e1Rbd, e1RbdBox), blk(e2Rbd, e2RbdBox)],
    br: [{ a: 2, b: 4, y: 23000, t: '*', fs: 12, off: -3 }, { a: 1, b: 4, y: 12000, t: '**', fs: 12, off: -3 }] },
  { ...stD, L: 151, T: 504, W: 97, H: 154, lo: 0.77, hi: 6.74, xd: [0.24, 4.58], major: [1, 2, 3, 4, 5, 6], bw: 0.34, jw: 0.3, cut: 30,
    g: [blk(hdSpk, hdSpkBox), blk(e0Spk, e0SpkBox), blk(e1Spk, e1SpkBox), blk(e2Spk, e2SpkBox)],
    br: [{ a: 2, b: 4, y: 830000, t: '*', fs: 12, off: -3 }, { a: 1, b: 4, y: 450000, t: '*', fs: 12, off: -3 }],
    xlab: ['HD\nn=22', '0\nn=60', '1\nn=36', '2\nn=7'], xfs: 7.8, xcol: '#333', xy0: 10, xlh: 7.5 },
  // F
  { ...stD, minor: false, L: 292, T: 343, W: 110, H: 147, lo: 0.905, hi: 4.58, xd: [0.4, 4.52], major: [1, 1.5, 2, 2.5, 3, 3.5, 4], bw: 0.3, jw: 0.28, cut: 30, divider: 2.5,
    g: [blk(fHdFRbd, fHdFRbdBox), blk(fHdMRbd, fHdMRbdBox), blk(fCaFRbd, fCaFRbdBox), blk(fCaMRbd, fCaMRbdBox)],
    br: [{ a: 1, b: 2, y: 15000, t: 'ns', fs: 6 }, { a: 3, b: 4, y: 15000, t: '*', fs: 11, off: -3 }] },
  { ...stD, L: 292, T: 504, W: 110, H: 146, lo: 0.81, hi: 6.3, xd: [0.4, 4.52], major: [1, 2, 3, 4, 5, 6], bw: 0.3, jw: 0.28, cut: 30, divider: 2.5,
    g: [blk(fHdFSpk, fHdFSpkBox), blk(fHdMSpk, fHdMSpkBox), blk(fCaFSpk, fCaFSpkBox), blk(fCaMSpk, fCaMSpkBox)],
    br: [{ a: 1, b: 2, y: 560000, t: 'ns', fs: 6 }, { a: 3, b: 4, y: 560000, t: '*', fs: 11, off: -3 }],
    xlab: ['Female\nn=12', 'Male\nn=10', 'Female\nn=52', 'Male\nn=51'], xfs: 7.5, xcol: '#333', xtl: 0, xy0: 10, xlh: 8 },
  // G
  { fs: 9, font: SANS, tc: '#111', ac: '#111', aw: 1.5, tl: 4, tb: true, L: 473, T: 339, W: 80, H: 127, lo: 0.93, hi: 5.31, xd: [0.17, 3.65], major: [1, 2, 3, 4, 5],
    bw: 0.33, jw: 0, cap: 0.3, blw: 1.2, mw: 1.4, cut: 30, cutC: '#111', cutD: '2 2', cutW: 1.6, subj: gRbdSubj, xtl: 4,
    g: [g(gRbdSubj.map((s) => s[0]).filter((v) => v > 0), gRbdBox[0], '#c8c8c8', '#777', '#111', '#5bc5f0', 1.8),
      g(gRbdSubj.map((s) => s[1]).filter((v) => v > 0), gRbdBox[1], '#c8c8c8', '#777', '#111', 'url(#hG)', 1.8),
      g(gRbdSubj.map((s) => s[2]).filter((v) => v > 0), gRbdBox[2], '#c8c8c8', '#777', '#111', 'url(#hP)', 1.8)],
    brc: '#111', br: [{ a: 0.7, b: 1.7, y: 46000, t: '**', fs: 10, leg: 0.31, lw: 2, off: 10 }, { a: 2.05, b: 3.0, y: 46000, t: '***', fs: 10, leg: 0.31, lw: 2, off: 10 }] },
  { fs: 9, font: SANS, tc: '#111', ac: '#111', aw: 1.5, tl: 4, tb: true, L: 476, T: 520, W: 79, H: 119, lo: 0.92, hi: 5.78, xd: [0.42, 3.7], major: [1, 2, 3, 4, 5],
    bw: 0.33, jw: 0, cap: 0.3, blw: 1.2, mw: 1.4, cut: 30, cutC: '#111', cutD: '2 2', cutW: 1.6, subj: gSpkSubj, xtl: 4,
    g: [g(gSpkSubj.map((s) => s[0]).filter((v) => v > 0), gSpkBox[0], '#c8c8c8', '#777', '#111', '#5bc5f0', 1.8),
      g(gSpkSubj.map((s) => s[1]).filter((v) => v > 0), gSpkBox[1], '#c8c8c8', '#777', '#111', 'url(#hG)', 1.8),
      g(gSpkSubj.map((s) => s[2]).filter((v) => v > 0), gSpkBox[2], '#c8c8c8', '#777', '#111', 'url(#hP)', 1.8)],
    brc: '#111', br: [{ a: 0.7, b: 1.8, y: 3200000, t: '**', fs: 10, leg: 0.33, lw: 2, off: 10 }, { a: 2.1, b: 3.2, y: 3200000, t: '****', fs: 10, leg: 0.33, lw: 2, off: 10 }],
    xlab: ['Dose 1\n(n=17)', 'Dose 2\n(n=49)', 'Dose 3\n(n=34)'], xrot: true, xfs: 8.5, xfs2: 6.5, xbold: true, xcol: '#111' },
  // H
  { fs: 8.5, font: DEJA, tc: '#111', ac: '#111', aw: 1.3, tl: 4, L: 608, T: 352, W: 79, H: 115, lo: 0.99, hi: 5.18, xd: [0.19, 2.66], major: [1, 2, 3, 4, 5],
    bw: 0.33, jw: 0.3, cap: 0.2, mw: 1.2, cut: 30, xtl: 4,
    g: [g(hNoRbd, hNoRbdBox, '#000', undefined, '#111', '#00e5ee', 1.5), g(hPrRbd, hPrRbdBox, '#000', undefined, '#111', '#fff200', 1.5)],
    br: [{ a: 1, b: 2, y: 51000, t: '***', fs: 11, leg: 0.33, lw: 1.2, off: -2 }] },
  { fs: 8.5, font: DEJA, tc: '#111', ac: '#111', aw: 1.3, tl: 4, L: 614, T: 500, W: 73, H: 136, lo: 0.95, hi: 6.93, xd: [0.32, 2.68], major: [1, 2, 3, 4, 5],
    bw: 0.33, jw: 0.3, cap: 0.2, mw: 1.2, cut: 30, xtl: 4,
    g: [g(hNoSpk, hNoSpkBox, '#000', undefined, '#111', '#00e5ee', 1.5), g(hPrSpk, hPrSpkBox, '#000', undefined, '#111', '#fff200', 1.5)],
    br: [{ a: 1, b: 2, y: 2300000, t: '****', fs: 11, leg: 0.33, lw: 1.2, off: -2 }],
    xlab: ['No prior\ninfection\n(n=103)', 'Prior\ninfection\n(n=12)'], xrot: true, xfs: 9, xfs2: 6.5, xcol: '#222' },
];

const bars: BarCfg[] = [
  { L: 281, T: 13, W: 48, H: 113, lo: -0.038, hi: 1.028, pos: bRbdPos1, n: bRbdN1, cols: bCol1, names: bCohorts },
  { L: 352, T: 13, W: 108, H: 113, lo: -0.038, hi: 1.028, pos: bRbdPos2, n: bRbdN2, cols: bCol2, names: bTx, stars: bRbdStars },
  { L: 281, T: 144, W: 48, H: 113, lo: -0.039, hi: 1.069, pos: bSpkPos1, n: bSpkN1, cols: bCol1, names: bCohorts, xlab: true },
  { L: 352, T: 144, W: 108, H: 113, lo: -0.039, hi: 1.069, pos: bSpkPos2, n: bSpkN2, cols: bCol2, names: bTx, stars: bSpkStars, xlab: true },
];

// header strips: left, top, width, height, text, colour, font size, font
const headers: [number, number, number, number, string, string, number, string][] = [
  [28, 5, 22, 10, 'Vax x2', CYAN, 5.5, SANS], [50, 5, 48, 10, 'Post-infection', HGRAY, 5.5, SANS],
  [118, 4, 129, 9, 'Post-vaccination x 2', CYAN, 5.5, SANS],
  [28, 140, 22, 10, 'Vax x2', CYAN, 5.5, SANS], [50, 140, 48, 10, 'Post-infection', HGRAY, 5.5, SANS],
  [118, 141, 129, 9, 'Post-vaccination x 2', CYAN, 5.5, SANS],
  [281, 3, 17, 10, 'Vax x2', CYAN, 4.2, SANS], [298, 3, 31, 10, 'Post-infection', HGRAY, 4.2, SANS],
  [352, 3, 108, 10, 'Post-vaccination x 2', CYAN, 4.5, SANS],
  [281, 137, 17, 7, 'Vax x2', CYAN, 4.2, SANS], [298, 137, 31, 7, 'Post-infection', HGRAY, 4.2, SANS],
  [352, 137, 108, 7, 'Post-vaccination x 2', CYAN, 4.5, SANS],
  [499, 4, 67, 9, 'Post-vaccination x 2', CYAN, 5.5, SANS], [583, 3, 124, 9, 'Post-vaccination x 2', CYAN, 5.5, SANS],
  [499, 137, 67, 9, 'Post-vaccination x 2', CYAN, 5.5, SANS], [583, 142, 124, 9, 'Post-vaccination x 2', CYAN, 5.5, SANS],
  [37, 343, 66, 10, 'Vax x2', CYAN, 6, DEJA], [37, 509, 66, 9, 'Vax x2', CYAN, 6, DEJA],
  [151, 343, 97, 10, 'Post-vaccination x2', CYAN, 8, DEJA], [151, 504, 97, 10, 'Post-vaccination x2', CYAN, 8, DEJA],
  [292, 343, 110, 10, 'Post-vaccination x2', CYAN, 8, DEJA], [292, 504, 110, 10, 'Post-vaccination x2', CYAN, 8, DEJA],
  [613, 343, 87, 9, 'Post-vaccination x2', CYAN, 8, DEJA], [613, 491, 89, 9, 'Post-vaccination x2', CYAN, 8, DEJA],
];

// text: x, y (centre), text, size, bold, font, rotated
const texts: [number, number, string, number, boolean, string, boolean][] = [
  [13, 68, 'RBD IgG titer', 11.5, true, SANS, true], [13, 198, 'Spike IgG titer', 11.5, true, SANS, true],
  [264, 68, 'RBD Seropositivity', 10, false, SANS, true], [264, 198, 'Spike Seropositivity', 10, false, SANS, true],
  [472, 70, 'RBD IgG Titer', 12.5, false, SANS, true], [472, 212, 'Spike IgG Titer', 12.5, false, SANS, true],
  [20, 411, 'RBD IgG Titer', 8.5, false, DEJA, true], [19, 583, 'Spike IgG Titer', 8.5, false, DEJA, true],
  [136, 410, 'RBD IgG Titer', 11, false, DEJA, true], [134, 583, 'Spike IgG Titer', 11, false, DEJA, true],
  [272, 416, 'RBD IgG Titer', 7.5, false, DEJA, true], [272, 584, 'Spike IgG Titer', 7.5, false, DEJA, true],
  [441, 402, 'RBD IgG titer', 10, false, SANS, true], [443, 581, 'Spike IgG titer', 10, false, SANS, true],
  [585, 414, 'RBD IgG Titer', 10.5, false, DEJA, true], [587, 584, 'Spike IgG Titer', 10.5, false, DEJA, true],
  [138, 287, 'Treatment Type', 7.5, true, SANS, false], [364, 287, 'Treatment type', 7.5, true, SANS, false],
  [634, 312, 'Solid tumor types', 8, true, SANS, false],
  [70, 685, 'Steroids', 10.5, true, DEJA, false], [199, 684, 'ECOG', 11, true, DEJA, false],
];

// panel letter, left, top, font size
const letters: [string, number, number, number][] = [
  ['A', 0, 0, 21], ['B', 247, 3, 23], ['C', 462, 3, 25], ['D', 9, 340, 25], ['E', 130, 340, 25], ['F', 261, 340, 25], ['G', 428, 345, 25], ['H', 566, 340, 25],
];

export default function App() {
  return (
    <div style={{ position: 'absolute', left: 0, top: 0, width: 708, height: 690, overflow: 'hidden', background: '#fff', fontFamily: SANS }}>
      <svg width={0} height={0} style={{ position: 'absolute' }}>
        <defs>
          <pattern id="hG" width="3.5" height="3.5" patternUnits="userSpaceOnUse" patternTransform="rotate(45)">
            <rect width="3.5" height="3.5" fill="#6aea5a" />
            <line x1="0" y1="0" x2="0" y2="3.5" stroke="#2a6a20" strokeWidth="0.7" />
          </pattern>
          <pattern id="hP" width="3.5" height="3.5" patternUnits="userSpaceOnUse" patternTransform="rotate(45)">
            <rect width="3.5" height="3.5" fill="#c58af0" />
            <line x1="0" y1="0" x2="0" y2="3.5" stroke="#5a2a80" strokeWidth="0.7" />
          </pattern>
        </defs>
      </svg>
      {bars.map((b, i) => (
        <div key={`bf${i}`} style={{ position: 'absolute', left: b.L, top: b.T - (i < 2 ? 10 : 7), width: b.W, height: b.H + (i < 2 ? 10 : 7), border: '1px solid #9a9a9a', boxSizing: 'border-box' }} />
      ))}
      {/* F spike label box and cohort strips */}
      <div style={{ position: 'absolute', left: 292, top: 650, width: 110, height: 23, borderLeft: '1px solid #9a9a9a', borderRight: '1px solid #9a9a9a', boxSizing: 'border-box' }} />
      <div style={{ position: 'absolute', left: 348, top: 650, width: 1, height: 23, background: '#9a9a9a' }} />
      <div style={{ position: 'absolute', left: 292, top: 673, width: 56, height: 11, background: '#bdbdbd', font: `bold 11px ${DEJA}`, lineHeight: '11px', textAlign: 'center', borderTop: '1px solid #555' }}>HD</div>
      <div style={{ position: 'absolute', left: 348, top: 673, width: 54, height: 11, background: '#f26c6c', font: `bold 11px ${DEJA}`, lineHeight: '11px', textAlign: 'center', borderTop: '1px solid #555' }}>Cancer</div>
      {/* H gray frames */}
      <div style={{ position: 'absolute', left: 608, top: 352, width: 92, height: 115, borderTop: '1px solid #aaa', borderRight: '1px solid #aaa', boxSizing: 'border-box' }} />
      <div style={{ position: 'absolute', left: 614, top: 500, width: 88, height: 136, borderRight: '1px solid #aaa', boxSizing: 'border-box' }} />
      {panels.map((c, i) => (
        <LogPanel key={i} c={c} />
      ))}
      {bars.map((b, i) => (
        <BarPanel key={`b${i}`} c={b} />
      ))}
      {headers.map(([l, t, w, h, s, bg, fs, font], i) => (
        <div key={`h${i}`} style={{ position: 'absolute', left: l, top: t, width: w, height: h, background: bg, fontSize: fs, fontFamily: font, lineHeight: `${h}px`, textAlign: 'center', whiteSpace: 'nowrap', overflow: 'hidden', color: '#111' }}>{s}</div>
      ))}
      {texts.map(([x, y, s, fs, bold, font, rot], i) => (
        <div key={`t${i}`} style={{ position: 'absolute', left: x, top: y, transform: `translate(-50%, -50%)${rot ? ' rotate(-90deg)' : ''}`, fontSize: fs, fontWeight: bold ? 700 : 400, fontFamily: font, whiteSpace: 'nowrap', lineHeight: 1, color: '#111' }}>{s}</div>
      ))}
      {letters.map(([s, x, y, fs]) => (
        <div key={s} style={{ position: 'absolute', left: x, top: y, fontSize: fs, fontFamily: SANS, lineHeight: 1, color: '#000' }}>{s}</div>
      ))}
    </div>
  );
}
